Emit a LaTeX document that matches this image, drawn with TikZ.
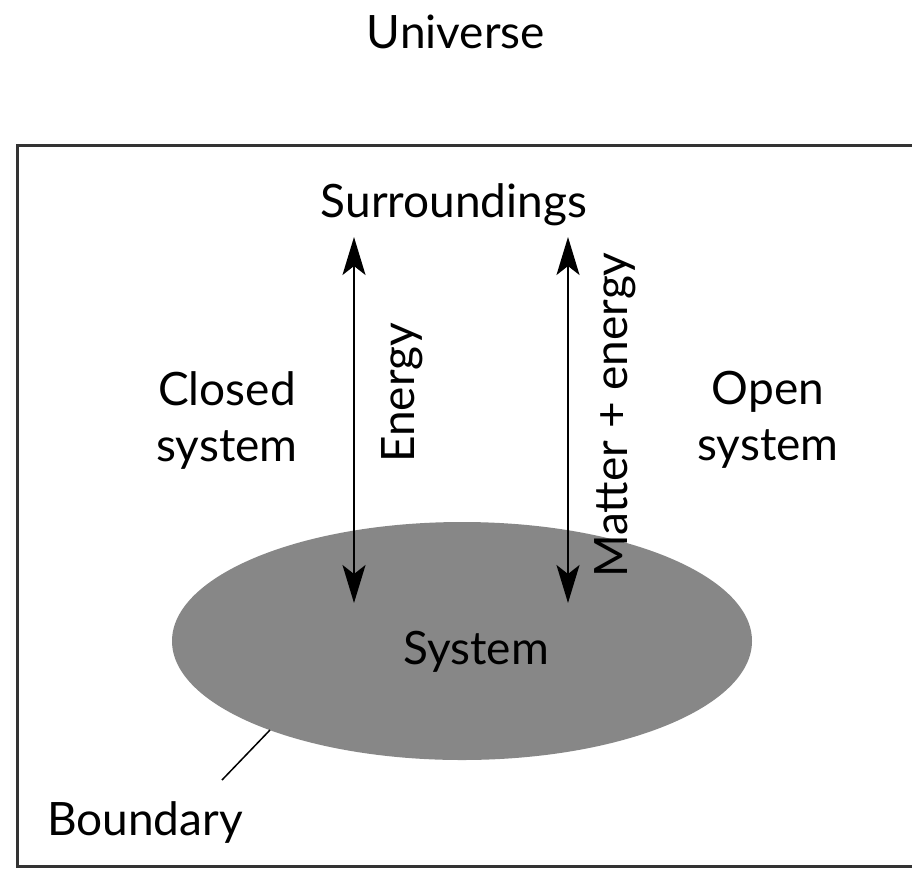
\documentclass[tikz,border=0pt]{standalone}
\usepackage{fontspec}
\setmainfont{Lato}
\usetikzlibrary{arrows.meta,shapes.geometric}
\begin{document}
\begin{tikzpicture}[x=1pt,y=-1pt,
  lbl/.style={font=\fontsize{46}{56}\selectfont, inner sep=0pt, align=center},
  flow/.style={line width=2pt, {Stealth[length=38pt,width=23pt,inset=9pt]}-{Stealth[length=38pt,width=23pt,inset=9pt]}},
  frame/.style={line width=3pt, draw=black!80}]
\useasboundingbox (0,0) rectangle (912,868);
\begin{scope}
\clip (0,0) rectangle (912,868);
\draw[frame] (17,145) rectangle (940,866);
\end{scope}
\node[ellipse, fill=black!47, minimum width=580pt, minimum height=238pt, inner sep=0pt] (sys) at (462,641) {};
\node[lbl] (systxt) at (476,652) {System};
\node[lbl] (univ) at (456,32) {Universe};
\node[lbl] (sur) at (454,205) {Surroundings};
\node[lbl] (closed) at (227,420) {Closed\\system};
\node[lbl] (open) at (768,420) {Open\\system};
\node[lbl, rotate=90] (en) at (402,393) {Energy};
\node[lbl, rotate=90] (me) at (615,415) {Matter + energy};
\node[lbl] (bnd) at (145,822) {Boundary};
\coordinate (a1t) at (354,237);
\coordinate (a1b) at (354,603);
\coordinate (a2t) at (568,237);
\coordinate (a2b) at (568,603);
\draw[flow] (a1b) -- (a1t);
\draw[flow] (a2b) -- (a2t);
\coordinate (bl1) at (270,730);
\coordinate (bl2) at (222,780);
\draw[line width=1.5pt] (bl1) -- (bl2);
\end{tikzpicture}
\end{document}
